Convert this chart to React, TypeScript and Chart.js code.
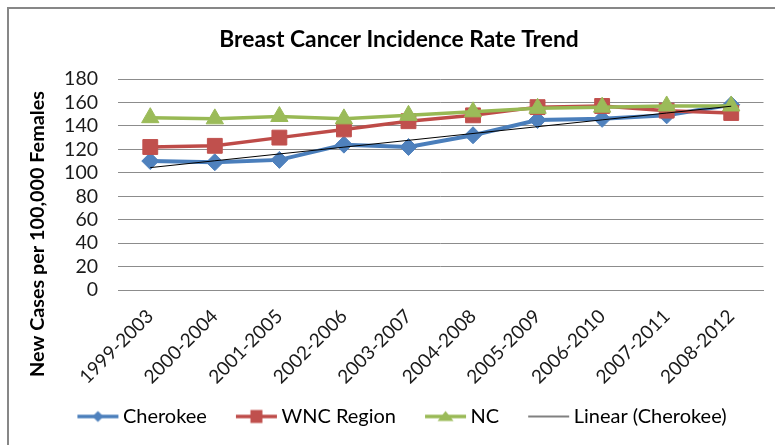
import React, { useEffect, useRef } from "react";
import { Chart, registerables } from "chart.js";

Chart.register(...registerables);

// ---- Data ----
const categories = [
  "1999-2003",
  "2000-2004",
  "2001-2005",
  "2002-2006",
  "2003-2007",
  "2004-2008",
  "2005-2009",
  "2006-2010",
  "2007-2011",
  "2008-2012",
];
const cherokee = [110, 109, 111, 124, 122, 132, 145, 146, 149, 158];
const wncRegion = [122, 123, 130, 137, 144, 149, 156, 157, 153, 151];
const ncState = [147, 146, 148, 146, 149, 152, 155, 156, 157, 157];
const seriesNames = ["Cherokee", "WNC Region", "NC", "Linear (Cherokee)"];
const yTickValues = [0, 20, 40, 60, 80, 100, 120, 140, 160, 180];
const chartTitle = "Breast Cancer Incidence Rate Trend";
const yAxisTitle = "New Cases per 100,000 Females";

// least-squares linear trendline of a series (Excel "Linear" trendline)
function linearTrend(values: number[]): number[] {
  const n = values.length;
  const xs = values.map((_, i) => i + 1);
  const mx = xs.reduce((a, b) => a + b, 0) / n;
  const my = values.reduce((a, b) => a + b, 0) / n;
  let sxy = 0;
  let sxx = 0;
  for (let i = 0; i < n; i++) {
    sxy += (xs[i] - mx) * (values[i] - my);
    sxx += (xs[i] - mx) * (xs[i] - mx);
  }
  const slope = sxy / sxx;
  const icpt = my - slope * mx;
  return xs.map((x) => icpt + slope * x);
}

const FONT = "Lato, 'Open Sans', 'DejaVu Sans', sans-serif";
const BLUE_LINE = "#4A7EBB";
const BLUE_MARK = "#4F81BD";
const RED_LINE = "#BE4B48";
const RED_MARK = "#C0504D";
const GREEN_LINE = "#98B954";
const GREEN_MARK = "#9BBB59";

// legend swatch: 60px-wide image, visible line+marker (41px) starting at x=16
function makeLegendImage(kind: string, lineColor: string, markColor: string) {
  const c = document.createElement("canvas");
  c.width = 60;
  c.height = 20;
  const ctx = c.getContext("2d")!;
  const x0 = 16;
  const cx = x0 + 20.5;
  ctx.strokeStyle = lineColor;
  ctx.lineWidth = kind === "none" ? 1 : 3.5;
  ctx.beginPath();
  ctx.moveTo(x0, 10);
  ctx.lineTo(x0 + 41, 10);
  ctx.stroke();
  ctx.fillStyle = markColor;
  ctx.beginPath();
  if (kind === "diamond") {
    ctx.moveTo(cx, 4.5);
    ctx.lineTo(cx + 5.5, 10);
    ctx.lineTo(cx, 15.5);
    ctx.lineTo(cx - 5.5, 10);
    ctx.closePath();
    ctx.fill();
  } else if (kind === "square") {
    ctx.rect(cx - 6, 3.5, 12, 13);
    ctx.fill();
  } else if (kind === "triangle") {
    ctx.moveTo(cx, 4.5);
    ctx.lineTo(cx + 8, 14.5);
    ctx.lineTo(cx - 8, 14.5);
    ctx.closePath();
    ctx.fill();
  }
  return c;
}

const textPlugin = {
  id: "excelTexts",
  afterDraw(chart: any) {
    const ctx = chart.ctx;
    ctx.save();
    ctx.fillStyle = "#000000";
    ctx.textAlign = "center";
    ctx.textBaseline = "middle";
    ctx.font = `bold 22.8px ${FONT}`;
    ctx.fillText(chartTitle, 399, 40);
    ctx.translate(38, 234);
    ctx.rotate(-Math.PI / 2);
    ctx.font = `bold 19.8px ${FONT}`;
    ctx.fillText(yAxisTitle, 0, 0);
    ctx.restore();
  },
};

export default function App() {
  const ref = useRef<HTMLCanvasElement | null>(null);

  useEffect(() => {
    if (!ref.current) return;
    const trend = linearTrend(cherokee);
    const legendImages = [
      makeLegendImage("diamond", BLUE_LINE, BLUE_MARK),
      makeLegendImage("square", RED_LINE, RED_MARK),
      makeLegendImage("triangle", GREEN_LINE, GREEN_MARK),
      makeLegendImage("none", "#000000", "#000000"),
    ];

    const chart = new Chart(ref.current, {
      type: "line",
      data: {
        labels: categories,
        datasets: [
          {
            label: seriesNames[0],
            data: cherokee,
            borderColor: BLUE_LINE,
            backgroundColor: BLUE_MARK,
            borderWidth: 4,
            pointStyle: "rectRot",
            pointRadius: 8.5,
            pointBorderColor: BLUE_MARK,
            pointBackgroundColor: BLUE_MARK,
            pointBorderWidth: 1,
            tension: 0,
            order: 3,
          },
          {
            label: seriesNames[1],
            data: wncRegion,
            borderColor: RED_LINE,
            backgroundColor: RED_MARK,
            borderWidth: 3.5,
            pointStyle: "rect",
            pointRadius: 10.5,
            pointBorderColor: RED_MARK,
            pointBackgroundColor: RED_MARK,
            pointBorderWidth: 1,
            tension: 0,
            order: 2,
          },
          {
            label: seriesNames[2],
            data: ncState,
            borderColor: GREEN_LINE,
            backgroundColor: GREEN_MARK,
            borderWidth: 3.5,
            pointStyle: "triangle",
            pointRadius: 10,
            pointBorderColor: GREEN_MARK,
            pointBackgroundColor: GREEN_MARK,
            pointBorderWidth: 1,
            tension: 0,
            order: 1,
          },
          {
            label: seriesNames[3],
            data: trend,
            borderColor: "#000000",
            borderWidth: 1,
            pointRadius: 0,
            tension: 0,
            order: 0,
          },
        ],
      },
      options: {
        responsive: false,
        animation: false,
        events: [],
        layout: { padding: { left: 28.5, right: 7, top: 79, bottom: 8.5 } },
        scales: {
          x: {
            offset: true,
            grid: { display: false, drawTicks: false },
            border: { display: true, color: "#8C8C8C", width: 1 },
            ticks: {
              autoSkip: false,
              minRotation: 45,
              maxRotation: 45,
              padding: 15,
              color: "#1a1a1a",
              font: { family: FONT, size: 19 },
            },
            afterFit: (s: any) => {
              s.height = 95;
            },
          },
          y: {
            min: 0,
            max: 180,
            afterBuildTicks: (s: any) => {
              s.ticks = yTickValues.map((v) => ({ value: v }));
            },
            grid: { color: "#8C8C8C", lineWidth: 1, drawTicks: false },
            border: { display: false },
            ticks: {
              autoSkip: false,
              padding: 20,
              color: "#1a1a1a",
              font: { family: FONT, size: 19.5 },
            },
            afterFit: (s: any) => {
              s.width = 89.5;
            },
          },
        },
        plugins: {
          title: { display: false },
          tooltip: { enabled: false },
          legend: {
            display: true,
            position: "bottom",
            labels: {
              usePointStyle: true,
              pointStyleWidth: 43,
              padding: 21.5,
              color: "#000000",
              font: { family: FONT, size: 20 },
              generateLabels: (c: any) =>
                c.data.datasets.map((ds: any, i: number) => ({
                  text: ds.label,
                  pointStyle: legendImages[i],
                  fillStyle: "rgba(0,0,0,0)",
                  strokeStyle: "rgba(0,0,0,0)",
                  lineWidth: 0,
                  hidden: false,
                  datasetIndex: i,
                  fontColor: "#000000",
                })),
            },
          },
        },
      },
      plugins: [textPlugin],
    } as any);

    return () => chart.destroy();
  }, []);

  return (
    <div
      style={{
        position: "fixed",
        left: 0,
        top: 0,
        width: 775,
        height: 445,
        overflow: "hidden",
        background: "#ffffff",
      }}
    >
      <div
        style={{
          position: "absolute",
          left: 7,
          top: 7,
          width: 900,
          height: 600,
          border: "2px solid #878787",
          boxSizing: "border-box",
        }}
      />
      <canvas
        ref={ref}
        width={775}
        height={445}
        style={{ position: "absolute", left: 0, top: 0, width: 775, height: 445 }}
      />
    </div>
  );
}
